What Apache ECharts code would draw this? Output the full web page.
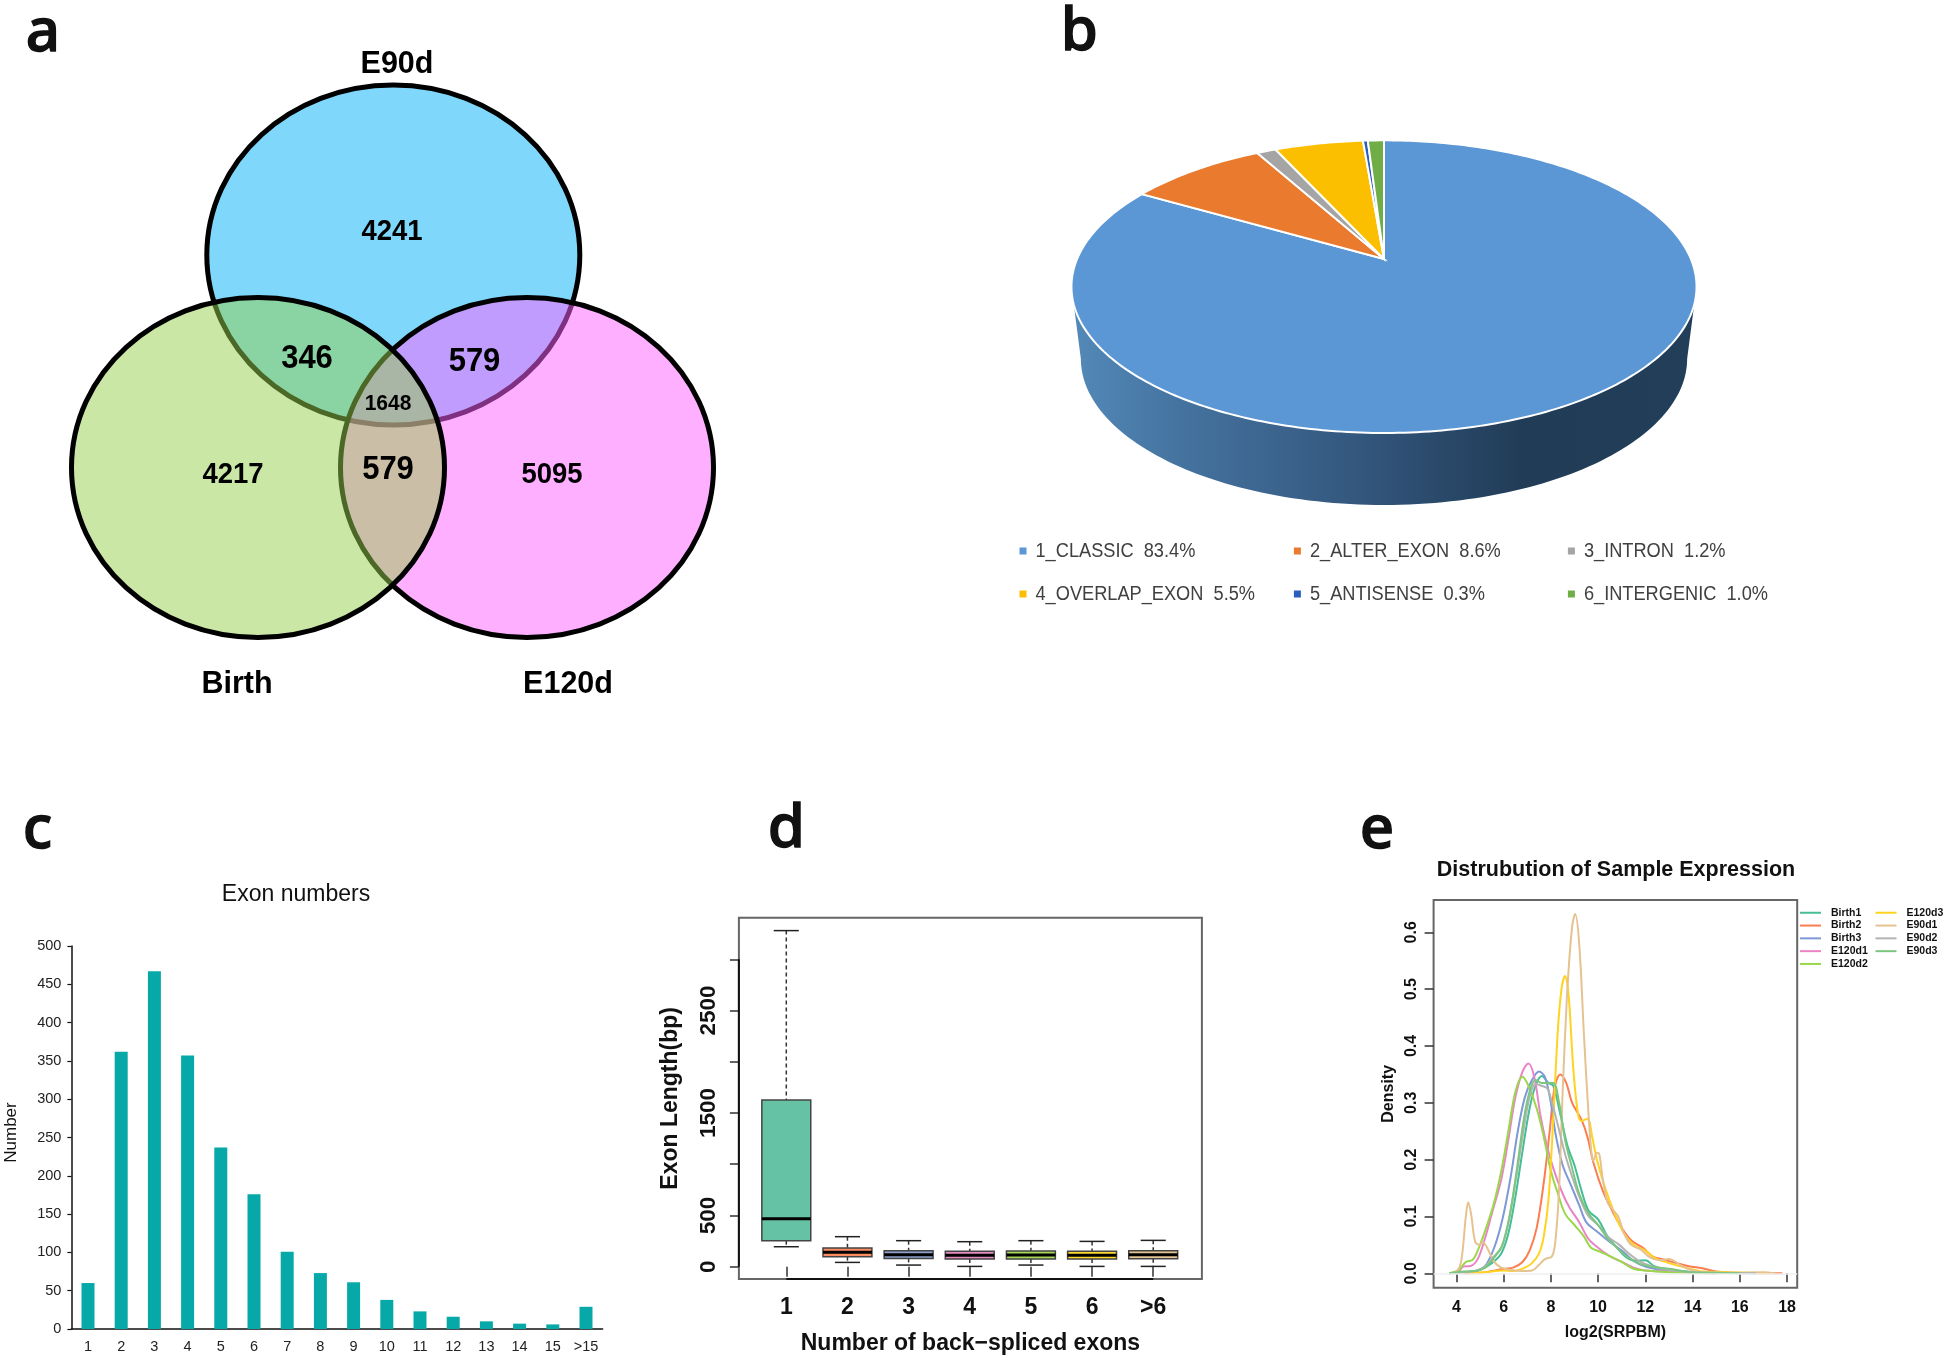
<!DOCTYPE html>
<html><head><meta charset="utf-8">
<script src="https://cdn.jsdelivr.net/npm/echarts@6/dist/echarts.min.js"></script>
<style>html,body{margin:0;padding:0;background:#fff}#c{width:1946px;height:1361px}</style>
</head><body><div id="c"></div>
<script>
// ---------- panel a ----------
const vennSets = ['E90d', 'E120d', 'Birth'];
const vennCounts = [4241, 4217, 5095, 346, 579, 579, 1648];
// ---------- panel b ----------
const pieNames = ['1_CLASSIC', '2_ALTER_EXON', '3_INTRON', '4_OVERLAP_EXON', '5_ANTISENSE', '6_INTERGENIC'];
const pieValues = [83.4, 8.6, 1.2, 5.5, 0.3, 1.0];
const pieColors = ['#5b97d5', '#ea7a2e', '#a5a5a5', '#fcbf00', '#2a5fc0', '#70ad47'];
// ---------- panel c ----------
const exonCategories = ['1','2','3','4','5','6','7','8','9','10','11','12','13','14','15','>15'];
const exonValues = [60, 362, 467, 357, 237, 176, 101, 73, 61, 38, 23, 16, 10, 7, 6, 29];
// ---------- panel d ----------
const boxTickLabels = ['1','2','3','4','5','6','>6'];
const boxHigh = [3280, 293, 254, 244, 254, 247, 257];
const boxQ3 = [1627, 182, 156, 150, 153, 150, 156];
const boxMedian = [469, 140, 117, 111, 114, 111, 117];
const boxQ1 = [254, 98, 81, 75, 75, 75, 78];
const boxLow = [195, 42, 16, 3, 16, 3, 3];
const boxColors = ['#66c2a5', '#fc8d62', '#8da0cb', '#e78ac3', '#a6d854', '#ffd92f', '#e5c494'];
const boxYTicks = [0, 500, 1000, 1500, 2000, 2500, 3000];
const boxYLabels = [0, 500, 1500, 2500];
// ---------- panel e ----------
const densityNames = ['Birth1','Birth2','Birth3','E120d1','E120d2','E120d3','E90d1','E90d2','E90d3'];
const densityColors = ['#45bd97','#fb7d50','#7f98d6','#ea84c6','#9ad84a','#ffd320','#e5c290','#b3b3b3','#7cc67f'];
const densityXTicks = [4,6,8,10,12,14,16,18];
const densityYTicks = [0,0.1,0.2,0.3,0.4,0.5,0.6];
const birth1 = [[3.7,0],[4.2,.002],[4.6,.003],[5,.006],[5.5,.018],[5.9,.035],[6.2,.07],[6.5,.135],[6.8,.215],[7.1,.29],[7.35,.33],[7.62,.347],[7.9,.335],[8.1,.33],[8.4,.28],[8.7,.225],[9,.19],[9.3,.145],[9.6,.11],[10,.095],[10.4,.065],[10.8,.045],[11.2,.028],[11.6,.022],[12,.023],[12.4,.012],[13,.007],[13.5,.004],[14,.002],[15,.001],[16.7,0]];
const birth2 = [[4.3,0],[5,.001],[5.5,.004],[6,.008],[6.4,.01],[6.8,.02],[7.1,.04],[7.4,.08],[7.7,.16],[7.95,.25],[8.15,.325],[8.4,.35],[8.65,.335],[8.9,.30],[9.3,.27],[9.55,.24],[9.8,.195],[10.2,.145],[10.6,.11],[11,.08],[11.4,.058],[11.9,.045],[12.3,.03],[12.8,.024],[13.3,.018],[13.8,.013],[14.5,.008],[15,.003],[15.7,.001],[16.5,.0005],[17.8,0]];
const birth3 = [[3.7,0],[4.3,.002],[4.8,.004],[5.2,.012],[5.6,.045],[5.95,.095],[6.3,.17],[6.6,.25],[6.9,.31],[7.2,.34],[7.5,.355],[7.75,.345],[8,.30],[8.2,.245],[8.5,.19],[8.8,.16],[9.2,.12],[9.5,.09],[10,.072],[10.5,.055],[11,.04],[11.5,.022],[12,.012],[12.5,.007],[13,.004],[14,.002],[15,0]];
const e120d1 = [[3.7,0],[4.1,.004],[4.3,.012],[4.6,.013],[4.9,.025],[5.2,.06],[5.5,.105],[5.9,.165],[6.2,.235],[6.5,.31],[6.8,.355],[7.05,.369],[7.3,.345],[7.55,.28],[7.8,.23],[8.1,.185],[8.5,.14],[8.8,.115],[9.2,.09],[9.6,.06],[10,.045],[10.5,.03],[11,.02],[11.5,.01],[12,.005],[13,.003],[14,.001],[15,0]];
const e120d2 = [[3.7,0],[4.1,.006],[4.4,.02],[4.7,.024],[5,.05],[5.3,.085],[5.6,.125],[5.9,.18],[6.2,.25],[6.5,.32],[6.8,.346],[7.05,.33],[7.4,.29],[7.7,.24],[8,.18],[8.3,.14],[8.6,.105],[9,.085],[9.4,.065],[9.7,.045],[10.1,.038],[10.5,.03],[11,.02],[11.5,.008],[12,.005],[13,.002],[14,.001],[15,0]];
const e120d3 = [[4.5,0],[5.2,.002],[6,.005],[6.4,.004],[6.9,.01],[7.2,.018],[7.5,.035],[7.7,.065],[7.9,.13],[8.1,.27],[8.3,.43],[8.45,.50],[8.6,.523],[8.75,.49],[8.95,.36],[9.15,.28],[9.3,.268],[9.55,.272],[9.75,.24],[9.95,.20],[10.3,.15],[10.7,.105],[11.1,.07],[11.5,.05],[12,.04],[12.4,.027],[13,.018],[13.7,.01],[14.5,.003],[15.5,.002],[16.5,.001],[17.2,0]];
const e90d1 = [[3.7,0],[4,.003],[4.2,.02],[4.4,.10],[4.5,.125],[4.62,.105],[4.8,.055],[5,.05],[5.1,.055],[5.3,.045],[5.6,.02],[5.9,.01],[6.3,.006],[6.8,.004],[7.2,.005],[7.5,.015],[7.75,.025],[8.05,.03],[8.2,.06],[8.35,.15],[8.5,.32],[8.7,.50],[8.9,.61],[9.03,.632],[9.2,.58],[9.4,.42],[9.55,.31],[9.7,.22],[9.8,.198],[9.95,.212],[10.05,.21],[10.2,.165],[10.4,.125],[10.6,.113],[10.85,.10],[11.1,.07],[11.4,.05],[11.8,.042],[12.2,.028],[12.6,.023],[13,.025],[13.5,.014],[14,.005],[14.5,.002],[15,.001],[16,.001],[17,.002],[17.5,0]];
const e90d2 = [[3.7,0],[4.3,.002],[4.8,.004],[5.2,.012],[5.6,.03],[5.9,.045],[6.2,.09],[6.5,.16],[6.8,.24],[7.1,.31],[7.35,.333],[7.6,.33],[7.85,.325],[8.05,.30],[8.3,.26],[8.6,.21],[8.9,.17],[9.2,.135],[9.6,.10],[10,.085],[10.4,.065],[10.9,.05],[11.3,.035],[11.8,.02],[12.3,.012],[13,.006],[14,.002],[15,.001],[16.7,0]];
const e90d3 = [[3.7,0],[4.3,.003],[4.8,.004],[5.2,.01],[5.6,.028],[5.95,.05],[6.25,.10],[6.55,.18],[6.85,.27],[7.1,.32],[7.35,.34],[7.6,.335],[7.85,.335],[8.1,.335],[8.35,.30],[8.6,.235],[8.9,.185],[9.2,.14],[9.6,.105],[10,.085],[10.4,.062],[10.8,.045],[11.2,.03],[11.7,.018],[12.2,.012],[13,.008],[14,.002],[15,.001],[16,0]];
const densityCurves = [birth1, birth2, birth3, e120d1, e120d2, e120d3, e90d1, e90d2, e90d3];

// ---------- layout ----------
const SANS = '"Liberation Sans", Arial, sans-serif';
const vennFill = ['rgba(0,177,247,0.5)', 'rgba(255,95,255,0.5)', 'rgba(149,207,77,0.5)'];
const vennCentre = [[393.3,255],[527,467.5],[258,467.5]];
const vennNamePos = [[397,64.5],[568,684.5],[237,684.5]];
const vennCountPos = [[392,232,27.5],[233,475,27.5],[552,475,27.5],[307,359,31],[474.5,361.5,31],[388,470,31],[388,403.5,21]];
const P = {cx:1384, ay:259, s:306.9, k:141.1, p:0.189, depth:72, shrink:0.97};
function project(a, xs, dy) {
  const u = Math.sin(a), v = -Math.cos(a), d = 1 - P.p * v;
  return [P.cx + xs * u * P.s / d, P.ay + dy + P.k * v / d];
}
const noAxis = {show:false};

const series = [];
// Venn
series.push({type:'custom', xAxisIndex:0, yAxisIndex:0, silent:true, data:vennSets.map((_,i)=>[i]),
  renderItem:(p,api)=>{
    const i = api.value(0), c = api.coord(vennCentre[i]);
    return {type:'ellipse', shape:{cx:c[0], cy:c[1], rx:186.5, ry:170},
      style:{fill:vennFill[i], stroke:'#000', lineWidth:5}};
  }});
series.push({type:'custom', xAxisIndex:0, yAxisIndex:0, silent:true, z:5, data:vennCounts.map((_,i)=>[i]),
  renderItem:(p,api)=>{
    const i = api.value(0), q = vennCountPos[i], c = api.coord(q);
    return {type:'text', x:c[0], y:c[1], scaleY:1.08, style:{x:0, y:0, text:String(vennCounts[i]), align:'center', verticalAlign:'middle',
      fontFamily:SANS, fontWeight:'bold', fontSize:q[2], fill:'#000'}};
  }});
series.push({type:'custom', xAxisIndex:0, yAxisIndex:0, silent:true, z:5, data:vennSets.map((_,i)=>[i]),
  renderItem:(p,api)=>{
    const i = api.value(0), c = api.coord(vennNamePos[i]);
    return {type:'text', style:{x:c[0], y:c[1], text:vennSets[i], align:'center', verticalAlign:'middle',
      fontFamily:SANS, fontWeight:'bold', fontSize:30.5, fill:'#000'}};
  }});
// Pie wall
series.push({type:'custom', xAxisIndex:0, yAxisIndex:0, silent:true, z:2, data:[[0]],
  renderItem:(p,api)=>{
    const a0 = Math.acos(-P.p), a1 = 2*Math.PI - a0, top = [], bot = [];
    for (let i=0;i<=120;i++){ const a = a0+(a1-a0)*i/120;
      top.push(api.coord(project(a,1,0))); bot.push(api.coord(project(a,P.shrink,P.depth))); }
    return {type:'polygon', shape:{points:top.concat(bot.reverse())},
      style:{fill:new echarts.graphic.LinearGradient(1,0,0,0,[
        {offset:0,color:'#223e59'},{offset:0.28,color:'#213c57'},{offset:0.55,color:'#34587f'},
        {offset:0.8,color:'#43709c'},{offset:1,color:'#5389b8'}]), stroke:null}};
  }});
// Pie top surface
const pieTotal = pieValues.reduce((a,b)=>a+b,0);
series.push({type:'custom', xAxisIndex:0, yAxisIndex:0, silent:true, z:3, data:pieValues.map((_,i)=>[i]),
  renderItem:(p,api)=>{
    const i = api.value(0);
    let before = 0; for (let j=0;j<i;j++) before += pieValues[j];
    const a0 = before/pieTotal*2*Math.PI, a1 = (before+pieValues[i])/pieTotal*2*Math.PI;
    const pts = [api.coord([P.cx,P.ay])], n = Math.max(4, Math.round((a1-a0)*60));
    for (let t=0;t<=n;t++) pts.push(api.coord(project(a0+(a1-a0)*t/n,1,0)));
    return {type:'polygon', shape:{points:pts}, style:{fill:pieColors[i], stroke:'#fff', lineWidth:2}};
  }});
// Pie legend
const legCol = [1023,1297.4,1571.4], legRow = [551,594];
series.push({type:'custom', xAxisIndex:0, yAxisIndex:0, silent:true, z:3, data:pieValues.map((_,i)=>[i]),
  renderItem:(p,api)=>{
    const i = api.value(0), c = api.coord([legCol[i%3], legRow[Math.floor(i/3)]]);
    return {type:'group', children:[
      {type:'rect', shape:{x:c[0]-3.5,y:c[1]-3.5,width:7,height:7}, style:{fill:pieColors[i]}},
      {type:'text', x:c[0]+12.5, y:c[1], scaleX:0.91, style:{x:0,y:0,text:pieNames[i]+'  '+pieValues[i].toFixed(1)+'%',verticalAlign:'middle',
        fontFamily:SANS, fontSize:20, fill:'#404040'}}
    ]};
  }});
// Panel c
series.push({type:'bar', xAxisIndex:1, yAxisIndex:1, data:exonValues, barWidth:13, itemStyle:{color:'#07a9a8'}, silent:true});
// Panel d
series.push({type:'custom', xAxisIndex:2, yAxisIndex:2, silent:true, data:boxMedian.map((_,i)=>[i+1]), clip:false, z:3,
  renderItem:(p,api)=>{
    const x = api.value(0), i = x-1, hw = 0.4, cw = 0.205;
    const C = (a,b)=>api.coord([a,b]);
    const line = (a,b,st)=>({type:'line', shape:{x1:a[0],y1:a[1],x2:b[0],y2:b[1]}, style:st});
    const tl = C(x-hw,boxQ3[i]), br = C(x+hw,boxQ1[i]);
    const solid = {stroke:'#222', lineWidth:1.5}, dash = {stroke:'#333', lineWidth:1.5, lineDash:[4,3]};
    const kids = [
      line(C(x,boxHigh[i]),C(x,boxQ3[i]),dash),
      line(C(x,boxQ1[i]),C(x,boxLow[i]),dash),
      line(C(x-cw,boxHigh[i]),C(x+cw,boxHigh[i]),solid),
      line(C(x-cw,boxLow[i]),C(x+cw,boxLow[i]),solid),
      {type:'rect', shape:{x:tl[0],y:tl[1],width:br[0]-tl[0],height:br[1]-tl[1]}, style:{fill:boxColors[i],stroke:'#444',lineWidth:1.5}},
      line(C(x-hw,boxMedian[i]),C(x+hw,boxMedian[i]),{stroke:'#000',lineWidth:3})
    ];
    if (i===0) {
      const axisSt = {stroke:'#111', lineWidth:2};
      kids.push(line(C(0.225,boxYTicks[0]),C(0.225,boxYTicks[6]),axisSt));
      kids.push(line(C(1,-120),C(7,-120),axisSt));
    }
    return {type:'group', children:kids};
  }});
// Panel e
densityNames.forEach((name,i)=>{
  series.push({type:'line', name, xAxisIndex:3, yAxisIndex:3, data:densityCurves[i], smooth:0.35, symbol:'none', silent:true,
    lineStyle:{color:densityColors[i], width:2}, itemStyle:{color:densityColors[i]},
    markLine: i===0 ? {silent:true, symbol:'none', label:{show:false}, animation:false,
      lineStyle:{color:'#efefef',width:1.5,type:'solid'}, data:[{yAxis:0}]} : undefined});
});

const boldTick = (fs)=>({fontFamily:SANS, fontWeight:'bold', fontSize:fs, color:'#111'});
const tickLine = {lineStyle:{color:'#333', width:1.5}};
const legendText = {fontFamily:SANS, fontWeight:'bold', fontSize:10.5, color:'#111', padding:[0,0,0,5], lineHeight:11.5};

const option = {
  animation:false, backgroundColor:'#fff',
  title:[
    {text:'Exon numbers', left:291, top:878, textAlign:'center', textStyle:{fontFamily:SANS, fontWeight:'normal', fontSize:23, color:'#111'}},
    {text:'Distrubution of Sample Expression', left:1611, top:854, textAlign:'center', textStyle:{fontFamily:SANS, fontWeight:'bold', fontSize:21.5, color:'#111'}}
  ],
  legend:[
    {data:densityNames.slice(0,5), orient:'vertical', left:1800, top:907, itemWidth:21, itemHeight:2, itemGap:1.3, icon:'rect', selectedMode:false,
      padding:0, textStyle:legendText},
    {data:densityNames.slice(5), orient:'vertical', left:1875.5, top:907, itemWidth:21, itemHeight:2, itemGap:1.3, icon:'rect', selectedMode:false,
      padding:0, textStyle:legendText}
  ],
  grid:[
    {left:0, top:0, width:1946, height:1361},
    {left:71.4, top:946, width:531.2, height:383},
    {left:738.9, top:917.7, width:463, height:361.3, show:true, borderColor:'#666', borderWidth:2},
    {left:1433.6, top:900, width:363.6, height:387.7, show:true, borderColor:'#666', borderWidth:2}
  ],
  xAxis:[
    {gridIndex:0, type:'value', min:0, max:1946, ...noAxis},
    {gridIndex:1, type:'category', data:exonCategories, axisLine:{lineStyle:{color:'#111',width:1.5}},
      axisTick:{alignWithLabel:true, length:4, lineStyle:{color:'#111',width:1.2}},
      axisLabel:{interval:0, margin:10.5, fontFamily:SANS, fontSize:14.5, color:'#222'}},
    {gridIndex:2, type:'value', min:0.225, max:7.796, splitLine:{show:false}, axisLine:{show:false},
      axisTick:{length:10, customValues:[1,2,3,4,5,6,7], ...tickLine},
      axisLabel:{customValues:[1,2,3,4,5,6,7], margin:17, formatter:v=>boxTickLabels[v-1], ...boldTick(23)},
      name:'Number of back\u2212spliced exons', nameLocation:'middle', nameGap:53, nameTextStyle:boldTick(23)},
    {gridIndex:3, type:'value', min:3.035, max:18.43, splitLine:{show:false}, axisLine:{show:false},
      axisTick:{length:9, customValues:densityXTicks, ...tickLine},
      axisLabel:{customValues:densityXTicks, margin:12, ...boldTick(16)},
      name:'log2(SRPBM)', nameLocation:'middle', nameGap:37, nameTextStyle:boldTick(16)}
  ],
  yAxis:[
    {gridIndex:0, type:'value', min:0, max:1361, inverse:true, ...noAxis},
    {gridIndex:1, type:'value', min:0, max:500, interval:50, splitLine:{show:false},
      axisLine:{show:true, lineStyle:{color:'#111',width:1.5}},
      axisTick:{show:true, length:4, lineStyle:{color:'#111',width:1.2}},
      axisLabel:{margin:10, fontFamily:SANS, fontSize:14.5, color:'#222'},
      name:'Number', nameLocation:'middle', nameGap:52, nameTextStyle:{fontFamily:SANS, fontSize:17, color:'#111', padding:[0,0,0,10]}},
    {gridIndex:2, type:'value', min:-120, max:3406, splitLine:{show:false}, axisLine:{show:false},
      axisTick:{length:9, customValues:boxYTicks, ...tickLine},
      axisLabel:{customValues:boxYLabels, rotate:90, margin:19, formatter:v=>String(v), ...boldTick(22.5)},
      name:'Exon Length(bp)', nameLocation:'middle', nameGap:57, nameTextStyle:boldTick(23)},
    {gridIndex:3, type:'value', min:-0.0253, max:0.6568, splitLine:{show:false}, axisLine:{show:false},
      axisTick:{length:9, customValues:densityYTicks, ...tickLine},
      axisLabel:{customValues:densityYTicks, rotate:90, margin:14, formatter:v=>v.toFixed(1), ...boldTick(16)},
      name:'Density', nameLocation:'middle', nameGap:37, nameTextStyle:boldTick(16)}
  ],
  graphic:[['a',25,60],['b',1060,59],['c',22,857],['d',767,856],['e',1359,857]].map(t=>({
    type:'text', left:t[1], top:t[2]-68, z:20, silent:true,
    style:{text:t[0], fontFamily:'"Noto Sans"', fontWeight:500, fontSize:60, fill:'#111', stroke:'#111', lineWidth:1.4, lineHeight:84}})),
  series
};
echarts.init(document.getElementById('c')).setOption(option);
</script></body></html>
